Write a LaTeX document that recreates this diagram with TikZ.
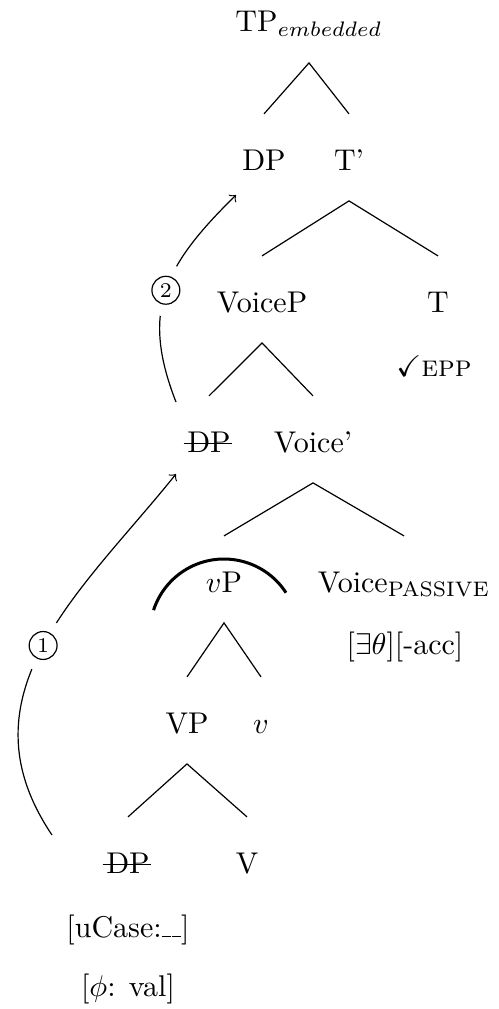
\documentclass[tikz,border=0pt]{standalone}
\usepackage{amssymb}
\begin{document}
\begin{tikzpicture}[x=0.3333pt,y=-0.3333pt,
  tn/.style={anchor=base, text height=11pt, text depth=2.6pt, inner ysep=7.5pt, inner xsep=2pt},
  lbl/.style={anchor=base, inner sep=0pt},
  branch/.style={line width=0.4pt},
  strike/.style={line width=0.4pt},
  move/.style={->, line width=0.4pt},
  gap/.style={circle, fill=white, minimum size=17.4pt, inner sep=0pt},
  circnum/.style={circle, draw, line width=0.4pt, minimum size=9.3pt, inner sep=0pt, font=\scriptsize}]
\useasboundingbox (0,0) rectangle (499,1009);
% tree nodes
\node[tn] (tp) at (309,32) {TP$_{embedded}$};
\node[tn] (dpt) at (264,170) {DP};
\node[tn] (tbar) at (349,170) {T'};
\node[tn] (voicep) at (262,312) {VoiceP};
\node[tn] (t) at (438,312) {T};
\node[lbl] (epp) at (434,376) {$\checkmark$\textsc{epp}};
\node[tn] (dpm) at (209,452) {DP};
\node[tn] (voicebar) at (313,452) {Voice'};
\node[tn] (vp) at (224,592) {$v$P};
\node[tn] (voicepass) at (404,592) {Voice$_{\mathrm{PASSIVE}}$};
\node[lbl] (feat) at (405,654) {[$\exists\theta$][-acc]};
\node[tn] (vpp) at (187,733) {VP};
\node[tn] (smallv) at (261,733) {$v$};
\node[tn] (dpb) at (128,873) {DP};
\node[tn] (vv) at (247,873) {V};
\node[lbl] (ucase) at (128,937) {[uCase:\rule{3pt}{0.4pt}\hspace{0.5pt}\rule{3pt}{0.4pt}]};
\node[lbl] (phi) at (128,996) {[$\phi$: val]};
% strike-through of the traces
\draw[strike] ([xshift=1pt, yshift=2.8pt]dpm.base west) -- ([xshift=-1.8pt, yshift=2.8pt]dpm.base east);
\draw[strike] ([xshift=1pt, yshift=2.8pt]dpb.base west) -- ([xshift=-1.8pt, yshift=2.8pt]dpb.base east);
% branches
\draw[branch] (dpt.north) -- (tp.south) -- (tbar.north);
\draw[branch] (voicep.north) -- (tbar.south) -- (t.north);
\draw[branch] (dpm.north) -- (voicep.south) -- (voicebar.north);
\draw[branch] (vp.north) -- (voicebar.south) -- (voicepass.north);
\draw[branch] (vpp.north) -- (vp.south) -- (smallv.north);
\draw[branch] (dpb.north) -- (vpp.south) -- (vv.north);
% thick arc over vP
\draw[line width=1pt] (286,592.7) arc[start angle=-33, end angle=-162, radius=74];
% movement 1
\coordinate (m1s) at (52,835);
\coordinate (m1e) at (176,474);
\draw[move] (m1s) .. controls (-43,694) and (82,591) .. (m1e)
  node[gap, pos=0.5] (g1) {};
\node[circnum] (c1) at (g1) {1};
% movement 2
\coordinate (m2s) at (176,402);
\coordinate (m2e) at (236,195);
\draw[move] (m2s) .. controls (140,310) and (165,265) .. (m2e)
  node[gap, pos=0.5] (g2) {};
\node[circnum] (c2) at (g2) {2};
\end{tikzpicture}
\end{document}
